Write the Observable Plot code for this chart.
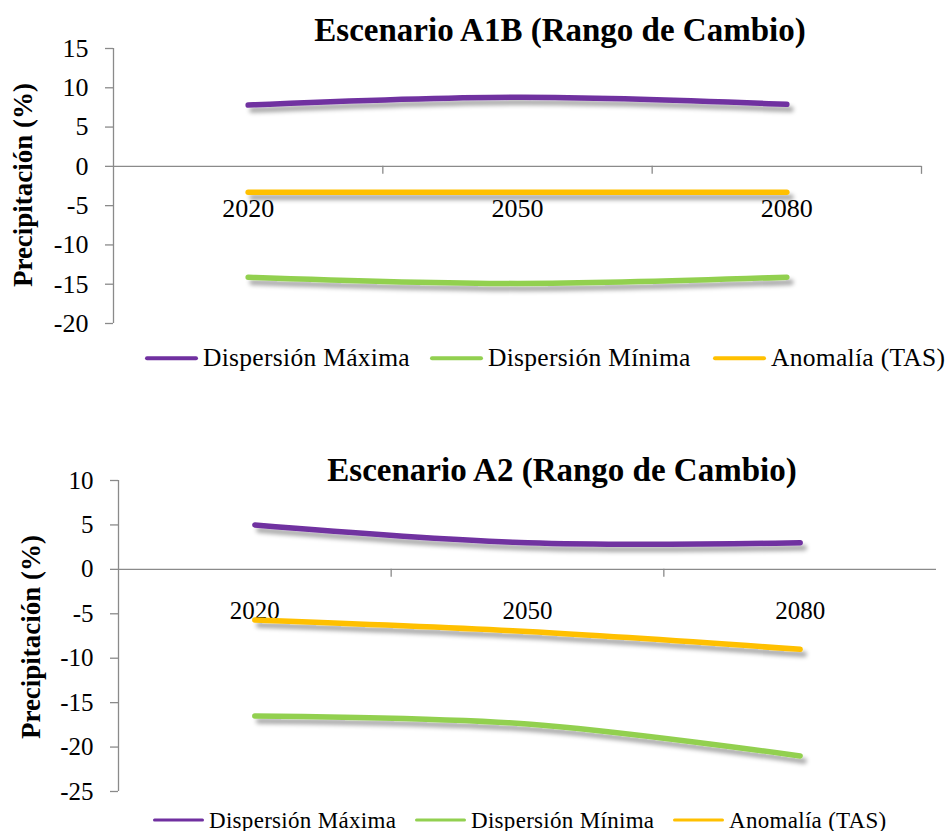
<!DOCTYPE html>
<html><head><meta charset="utf-8">
<script src="https://cdn.jsdelivr.net/npm/d3@7"></script>
<script src="https://cdn.jsdelivr.net/npm/@observablehq/plot@0.6"></script>
<style>
body{margin:0;background:#fff;overflow:hidden}
#wrap{position:relative;width:948px;height:831px;font-family:"Liberation Serif",serif;color:#000}
.title{position:absolute;white-space:nowrap;font-weight:bold;font-size:33px;line-height:1;transform:translateX(-50%)}
.ytitle{position:absolute;white-space:nowrap;font-weight:bold;font-size:27px;line-height:1;transform:translate(-50%,-50%) rotate(-90deg)}
.leg{position:absolute;display:flex;align-items:center;white-space:nowrap;font-family:"Liberation Serif",serif;line-height:1;transform:translateY(-50%);letter-spacing:0.3px}
.sw{display:inline-block;margin-right:5px;border-radius:2px}
svg text{font-family:"Liberation Serif",serif}
</style></head><body><div id="wrap"></div>
<script>
// ---- data ----
const years = ["2020", "2050", "2080"];
const seriesNames = ["Dispersión Máxima", "Dispersión Mínima", "Anomalía (TAS)"];
const seriesColors = ["#7030A0", "#92D050", "#FFC000"];
const a1bMax = [7.8, 8.8, 7.9];
const a1bMin = [-14.1, -14.9, -14.1];
const a1bAnom = [-3.3, -3.3, -3.3];
const a2Max = [5.0, 3.0, 3.0];
const a2Min = [-16.5, -17.4, -21.0];
const a2Anom = [-5.7, -7.0, -9.0];
const a1bTicks = [15, 10, 5, 0, -5, -10, -15, -20];
const a2Ticks = [10, 5, 0, -5, -10, -15, -20, -25];
const a1bTitle = "Escenario A1B (Rango de Cambio)";
const a2Title = "Escenario A2 (Rango de Cambio)";
const yTitle = "Precipitación (%)";

const wrap = document.getElementById("wrap");
const gray = "#8a8a8a";
const serif = "Liberation Serif";

function chart(cfg) {
  const rows = [];
  cfg.series.forEach((vals, s) => vals.forEach((v, i) => rows.push({series: seriesNames[s], pos: i + 0.5, value: v})));
  const yearRows = years.map((y, i) => ({year: y, pos: i + 0.5}));
  const bounds = d3.range(1, years.length + (cfg.lastTick ? 1 : 0));
  const svg = Plot.plot({
    width: 948, height: cfg.height,
    marginLeft: cfg.ml, marginRight: cfg.mr, marginTop: cfg.mt, marginBottom: cfg.mb,
    style: {fontFamily: serif, fontSize: cfg.fs + "px", background: "transparent", overflow: "visible", color: "#000"},
    x: {domain: [0, years.length], axis: null},
    y: {domain: cfg.ydom, axis: null},
    color: {domain: seriesNames, range: seriesColors},
    marks: [
      Plot.ruleY([0], {stroke: gray, strokeWidth: 1.3}),
      Plot.ruleX(bounds, {x: d => d, y1: 0, y2: 0, insetBottom: -8, stroke: gray, strokeWidth: 1.3}),
      Plot.ruleX([0], {stroke: gray, strokeWidth: 1.3}),
      Plot.ruleY(cfg.ticks, {y: d => d, x1: 0, x2: 0, insetLeft: -8, stroke: gray, strokeWidth: 1.3}),
      Plot.text(cfg.ticks, {x: () => 0, y: d => d, text: d => String(d), textAnchor: "end", dx: -25, fontSize: cfg.fs, fontFamily: serif, fill: "#000"}),
      Plot.text(yearRows, {x: "pos", y: () => 0, text: "year", dy: 42, fontSize: cfg.fs, fontFamily: serif, lineAnchor: "middle", fill: "#000"}),
      Plot.line(rows, {x: "pos", y: "value", z: "series", stroke: "series", strokeWidth: 5.5, curve: "catmull-rom", strokeLinecap: "round"})
    ]
  });
  const s = d3.select(svg);
  s.attr("font-family", serif);
  const defs = s.insert("defs", ":first-child");
  const f = defs.append("filter").attr("id", cfg.id).attr("filterUnits", "userSpaceOnUse")
    .attr("x", 0).attr("y", 0).attr("width", 948).attr("height", cfg.height);
  f.append("feDropShadow").attr("dx", 4).attr("dy", 5).attr("stdDeviation", 2)
    .attr("flood-color", "#000").attr("flood-opacity", 0.35);
  s.selectAll('g[aria-label="line"]').attr("filter", `url(#${cfg.id})`);
  svg.style.position = "absolute";
  svg.style.left = "0px";
  svg.style.top = cfg.top + "px";
  wrap.appendChild(svg);

  const t = document.createElement("div");
  t.className = "title";
  t.textContent = cfg.title;
  t.style.left = cfg.titleX + "px";
  t.style.top = cfg.titleY + "px";
  wrap.appendChild(t);

  const yt = document.createElement("div");
  yt.className = "ytitle";
  yt.textContent = yTitle;
  yt.style.left = cfg.ytX + "px";
  yt.style.top = cfg.ytY + "px";
  wrap.appendChild(yt);

  seriesNames.forEach((name, i) => {
    const d = document.createElement("div");
    d.className = "leg";
    d.style.left = cfg.legX[i] + "px";
    d.style.top = cfg.legY + "px";
    d.style.fontSize = cfg.legFs + "px";
    const sw = document.createElement("span");
    sw.className = "sw";
    sw.style.width = cfg.swW + "px";
    sw.style.height = cfg.swH + "px";
    sw.style.background = seriesColors[i];
    const tx = document.createElement("span");
    tx.textContent = name;
    d.appendChild(sw);
    d.appendChild(tx);
    wrap.appendChild(d);
  });
}

chart({
  id: "shA1B", top: 0, height: 340, ml: 113, mr: 27, mt: 48, mb: 17, fs: 26,
  ydom: [-20, 15], ticks: a1bTicks, series: [a1bMax, a1bMin, a1bAnom], lastTick: true,
  title: a1bTitle, titleX: 560, titleY: 14, ytX: 23, ytY: 185,
  legX: [145, 430, 713], legY: 358, legFs: 25.5, swW: 53, swH: 3.5
});
chart({
  id: "shA2", top: 440, height: 391, ml: 118, mr: 12, mt: 40, mb: 40, fs: 25,
  ydom: [-25, 10], ticks: a2Ticks, series: [a2Max, a2Min, a2Anom], lastTick: false,
  title: a2Title, titleX: 562, titleY: 454, ytX: 31, ytY: 637,
  legX: [153, 415, 673], legY: 820, legFs: 23, swW: 51, swH: 2.5
});
</script></body></html>
